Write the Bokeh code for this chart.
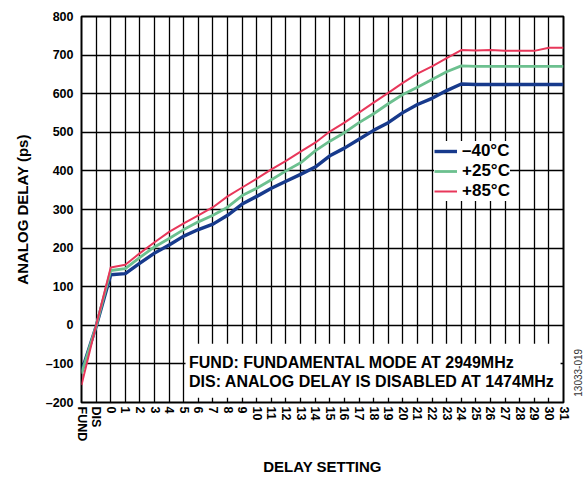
import math
from bokeh.plotting import figure
from bokeh.layouts import row
from bokeh.models import Range1d, FixedTicker, ColumnDataSource
from bokeh.core.properties import value
from bokeh.embed import file_html
from bokeh.resources import INLINE

settings = ["FUND", "DIS"] + [str(i) for i in range(32)]

t_m40 = [-120, -3, 131, 134, 161, 187, 208, 231, 248, 262, 285, 314, 334, 355,
         373, 391, 410, 439, 459, 482, 505, 525, 551, 572, 588, 608, 625, 624,
         624, 624, 624, 624, 624, 624]
t_p25 = [-125, -2, 142, 147, 176, 203, 225, 248, 268, 285, 306, 336, 355, 377,
         400, 421, 452, 477, 499, 525, 548, 574, 598, 617, 637, 657, 672, 671,
         671, 671, 671, 671, 671, 671]
t_p85 = [-155, 0, 150, 157, 187, 215, 242, 264, 285, 306, 334, 357, 380, 404,
         426, 450, 473, 502, 525, 551, 577, 602, 628, 652, 671, 692, 713, 712,
         713, 711, 711, 711, 719, 719]

series_labels = ["\u201340\u00b0C", "+25\u00b0C", "+85\u00b0C"]
series_colors = ["#173a8c", "#6cc08f", "#e8375a"]
series_widths = [3.4, 2.8, 2.0]

y_ticks = list(range(-200, 900, 100))
note_lines = ["FUND: FUNDAMENTAL MODE AT 2949MHz",
              "DIS: ANALOG DELAY IS DISABLED AT 1474MHz"]
fig_id = "13033-019"

FONT = "Liberation Sans"
xs = list(range(len(settings)))
H = 483
TOP = 16
BOTTOM = 81

p = figure(width=571, height=H, output_backend="svg", toolbar_location=None,
           x_range=Range1d(0, len(settings) - 1), y_range=Range1d(-200, 800),
           min_border_left=81, min_border_right=8, min_border_top=TOP,
           min_border_bottom=BOTTOM)

p.background_fill_color = "white"
p.border_fill_color = "white"
p.outline_line_color = "black"
p.outline_line_width = 2

# grid
p.xgrid.ticker = FixedTicker(ticks=xs)
p.ygrid.ticker = FixedTicker(ticks=y_ticks)
for g in (p.xgrid, p.ygrid):
    g.grid_line_color = "black"
    g.grid_line_width = 1.3
    g.grid_line_alpha = 1.0

# axes
p.xaxis.ticker = FixedTicker(ticks=xs)
p.xaxis.major_label_overrides = {i: s for i, s in enumerate(settings)}
p.xaxis.major_label_orientation = "vertical"
p.yaxis.ticker = FixedTicker(ticks=y_ticks)
p.yaxis.major_label_overrides = {v: (("\u2013" + str(-v)) if v < 0 else str(v)) for v in y_ticks}
for ax in (p.xaxis[0], p.yaxis[0]):
    ax.axis_line_color = None
    ax.major_tick_line_color = None
    ax.minor_tick_line_color = None
    ax.major_tick_in = 0
    ax.major_tick_out = 0
    ax.minor_tick_in = 0
    ax.minor_tick_out = 0
    ax.major_label_text_font = FONT
    ax.major_label_text_font_style = "bold"
    ax.major_label_text_font_size = "12.5px"
    ax.major_label_text_color = "black"
    ax.axis_label_text_font = FONT
    ax.axis_label_text_font_style = "bold"
    ax.axis_label_text_font_size = "15px"
    ax.axis_label_text_color = "black"
p.xaxis.axis_label = "DELAY SETTING"
p.yaxis.axis_label = "ANALOG DELAY (ps)"
p.xaxis.major_label_standoff = 4
p.yaxis.major_label_standoff = 8
p.xaxis.axis_label_standoff = 14
p.yaxis.axis_label_standoff = 12

# note box
p.quad(left=[7.12], right=[32.8], bottom=[-188], top=[-48],
       fill_color="white", line_color=None)

src = ColumnDataSource(dict(x=xs, a=t_m40, b=t_p25, c=t_p85))
for col, lab, colr, w in zip(["a", "b", "c"], series_labels, series_colors, series_widths):
    p.line("x", col, source=src, line_color=colr, line_width=w,
           line_join="round", legend_label=lab)

p.text(x=[7.36, 7.36], y=[-97, -146], text=note_lines,
       text_font=value(FONT), text_font_style="bold", text_font_size="16px",
       text_color="black", text_align="left", text_baseline="middle")

leg = p.legend[0]
leg.location = (353, 201)
leg.background_fill_color = "white"
leg.background_fill_alpha = 1.0
leg.border_line_color = None
leg.padding = 5
leg.spacing = 0
leg.margin = 0
leg.label_height = 18
leg.glyph_height = 18
leg.glyph_width = 23
leg.label_standoff = 5
leg.label_text_font = FONT
leg.label_text_font_style = "bold"
leg.label_text_font_size = "17px"
leg.label_text_color = "black"

# narrow side strip carrying the figure id
s = figure(width=16, height=H, output_backend="svg", toolbar_location=None,
           x_range=Range1d(0, 16), y_range=Range1d(-200, 800),
           x_axis_location=None, y_axis_location=None,
           min_border_left=0, min_border_right=0, min_border_top=TOP,
           min_border_bottom=BOTTOM)
s.outline_line_color = None
s.background_fill_color = "white"
s.border_fill_color = "white"
s.xgrid.visible = False
s.ygrid.visible = False
s.text(x=[6], y=[-123], text=[fig_id], angle=math.pi / 2,
       text_font=value(FONT), text_font_size="10px", text_color="#333333",
       text_align="center", text_baseline="middle")

layout = row(p, s, spacing=0)
open("out.html", "w").write(file_html(layout, INLINE))
